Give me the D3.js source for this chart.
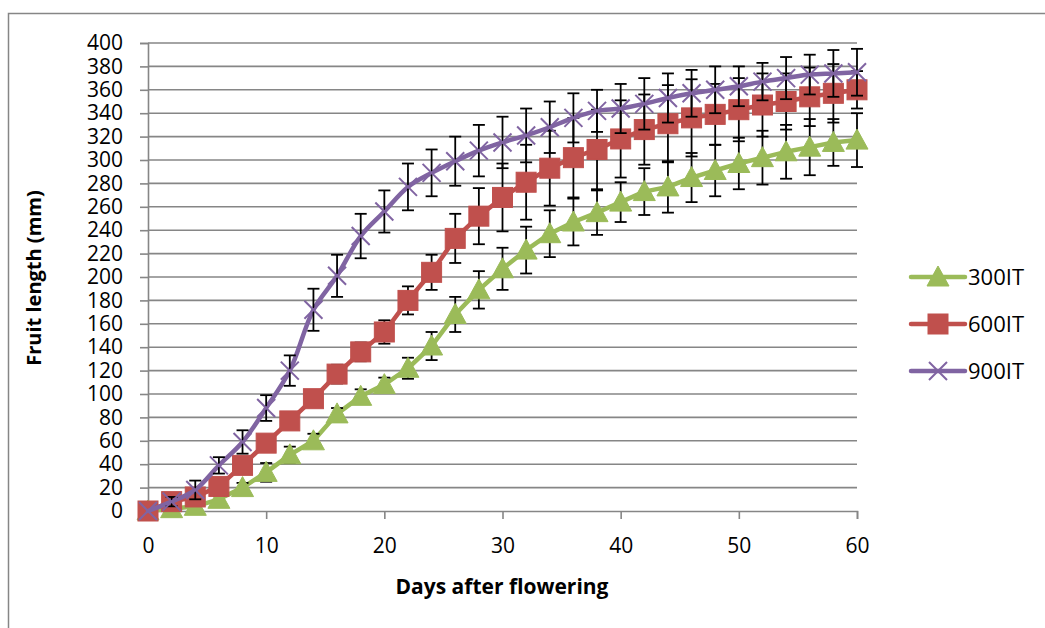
<!DOCTYPE html>
<html>
<head>
<meta charset="utf-8">
<script src="https://cdn.jsdelivr.net/npm/d3@7"></script>
<style>
  html, body { margin: 0; padding: 0; background: #fff; }
  svg { display: block; }
  text { font-family: "Open Sans", "Noto Sans", sans-serif; fill: #000; }
</style>
</head>
<body>
<svg id="chart" width="1045" height="628"></svg>
<script>
// ---- data ----
const days = [0,2,4,6,8,10,12,14,16,18,20,22,24,26,28,30,32,34,36,38,40,42,44,46,48,50,52,54,56,58,60];
const seriesNames = ["300IT", "600IT", "900IT"];
const values300 = [0,2,4,10,20,33,48,60,83,98,108,122,141,168,189,207,223,237,247,255,264,273,277,285,291,297,302,307,311,315,317];
const values600 = [0,8,12,21,39,58,77,96,117,136,153,180,204,233,252,268,281,293,302,309,318,326,331,336,339,343,347,350,354,357,360];
const values900 = [0,8,18,39,59,88,120,172,201,235,256,277,289,299,308,315,321,328,336,342,344,348,353,357,360,363,367,370,373,374,375];
const err300 = [0,2,3,3,4,8,7,6,5,6,6,9,12,15,16,18,20,20,20,19,17,20,22,21,22,22,23,23,24,20,23];
const err600 = [0,3,4,4,5,6,6,7,8,8,10,12,15,21,24,29,32,32,34,34,33,30,33,33,26,27,27,24,25,25,16];
const err900 = [0,4,8,7,10,11,13,18,18,19,18,20,20,21,22,22,23,22,21,18,21,22,21,20,20,17,16,18,17,20,20];
const yTicks = [0,20,40,60,80,100,120,140,160,180,200,220,240,260,280,300,320,340,360,380,400];
const xTicks = [0,10,20,30,40,50,60];
const xTitle = "Days after flowering";
const yTitle = "Fruit length (mm)";

// ---- layout ----
const svg = d3.select("#chart");
const x = d3.scaleLinear().domain([0, 60]).range([148, 857]);
const y = d3.scaleLinear().domain([0, 400]).range([511, 43]);
const gridColor = "#868686";

// outer frame
svg.append("rect").attr("x", 8.5).attr("y", 13.5).attr("width", 1100).attr("height", 700)
  .attr("fill", "none").attr("stroke", gridColor).attr("stroke-width", 1.5);

// gridlines
svg.append("g").selectAll("line").data(yTicks.filter(d => d > 0)).join("line")
  .attr("x1", x(0)).attr("x2", x(60)).attr("y1", d => y(d)).attr("y2", d => y(d))
  .attr("stroke", gridColor).attr("stroke-width", 1.6);

// y axis
const yAxis = d3.axisLeft(y).tickValues(yTicks).tickSize(8).tickPadding(17);
const gy = svg.append("g").attr("transform", `translate(${x(0)},0)`).call(yAxis);
gy.select(".domain").attr("stroke", gridColor).attr("stroke-width", 1.6);
gy.selectAll(".tick line").attr("stroke", gridColor).attr("stroke-width", 1.6);
gy.selectAll(".tick text").attr("font-size", 21).attr("font-family", "Open Sans").attr("fill", "#000");

// x axis
const xAxis = d3.axisBottom(x).tickValues(xTicks).tickSize(8).tickPadding(19);
const gx = svg.append("g").attr("transform", `translate(0,${y(0)})`).call(xAxis);
gx.select(".domain").attr("stroke", gridColor).attr("stroke-width", 1.6);
gx.selectAll(".tick line").attr("stroke", gridColor).attr("stroke-width", 1.6);
gx.selectAll(".tick text").attr("font-size", 21).attr("font-family", "Open Sans").attr("fill", "#000");

// titles
svg.append("text").attr("x", 502).attr("y", 594).attr("text-anchor", "middle")
  .attr("font-size", 21).attr("font-weight", "bold").text(xTitle);
svg.append("text").attr("transform", "translate(41,278) rotate(-90)").attr("text-anchor", "middle")
  .attr("font-size", 20).attr("font-weight", "bold").text(yTitle);

// series
const series = [
  { name: seriesNames[0], vals: values300, err: err300, color: "#9BBB59", marker: "triangle", curve: d3.curveLinear, width: 4.5 },
  { name: seriesNames[1], vals: values600, err: err600, color: "#C0504D", marker: "square", curve: d3.curveLinear, width: 4.5 },
  { name: seriesNames[2], vals: values900, err: err900, color: "#8064A2", marker: "cross", curve: d3.curveCatmullRom.alpha(0.5), width: 4.5 }
];

function drawMarker(g, type, color, cx, cy) {
  if (type === "square") {
    g.append("rect").attr("x", cx - 10).attr("y", cy - 10).attr("width", 20).attr("height", 20)
      .attr("fill", color).attr("stroke", color).attr("stroke-width", 1);
  } else if (type === "triangle") {
    g.append("path").attr("d", `M${cx},${cy - 11}L${cx + 11},${cy + 9}L${cx - 11},${cy + 9}Z`)
      .attr("fill", color).attr("stroke", color).attr("stroke-width", 1);
  } else {
    g.append("path").attr("d", `M${cx - 9},${cy - 9}L${cx + 9},${cy + 9}M${cx - 9},${cy + 9}L${cx + 9},${cy - 9}`)
      .attr("stroke", color).attr("stroke-width", 2).attr("fill", "none");
  }
}

const plot = svg.append("g");
series.forEach(s => {
  const pts = days.map((d, i) => [d, s.vals[i]]);
  const line = d3.line().x(d => x(d[0])).y(d => y(d[1])).curve(s.curve);
  plot.append("path").attr("d", line(pts)).attr("fill", "none")
    .attr("stroke", s.color).attr("stroke-width", s.width).attr("stroke-linejoin", "round").attr("stroke-linecap", "round");
  // error bars (under this series' markers)
  const eg = plot.append("g").attr("stroke", "#000").attr("stroke-width", 1.8);
  days.forEach((d, i) => {
    const e = s.err[i];
    if (e <= 0) return;
    const cx = x(d), y1 = y(s.vals[i] + e), y2 = y(s.vals[i] - e);
    eg.append("line").attr("x1", cx).attr("x2", cx).attr("y1", y1).attr("y2", y2);
    eg.append("line").attr("x1", cx - 6).attr("x2", cx + 6).attr("y1", y1).attr("y2", y1);
    eg.append("line").attr("x1", cx - 6).attr("x2", cx + 6).attr("y1", y2).attr("y2", y2);
  });
  const mg = plot.append("g");
  pts.forEach(p => drawMarker(mg, s.marker, s.color, x(p[0]), y(p[1])));
});

// legend
const lg = svg.append("g");
const legendY = [277, 324, 371];
series.forEach((s, i) => {
  const ly = legendY[i];
  lg.append("line").attr("x1", 911).attr("x2", 965).attr("y1", ly).attr("y2", ly)
    .attr("stroke", s.color).attr("stroke-width", s.width).attr("stroke-linecap", "round");
  drawMarker(lg, s.marker, s.color, 938, ly);
  lg.append("text").attr("x", 968).attr("y", ly).attr("dy", "0.35em")
    .attr("font-size", 22).text(s.name);
});
</script>
</body>
</html>
